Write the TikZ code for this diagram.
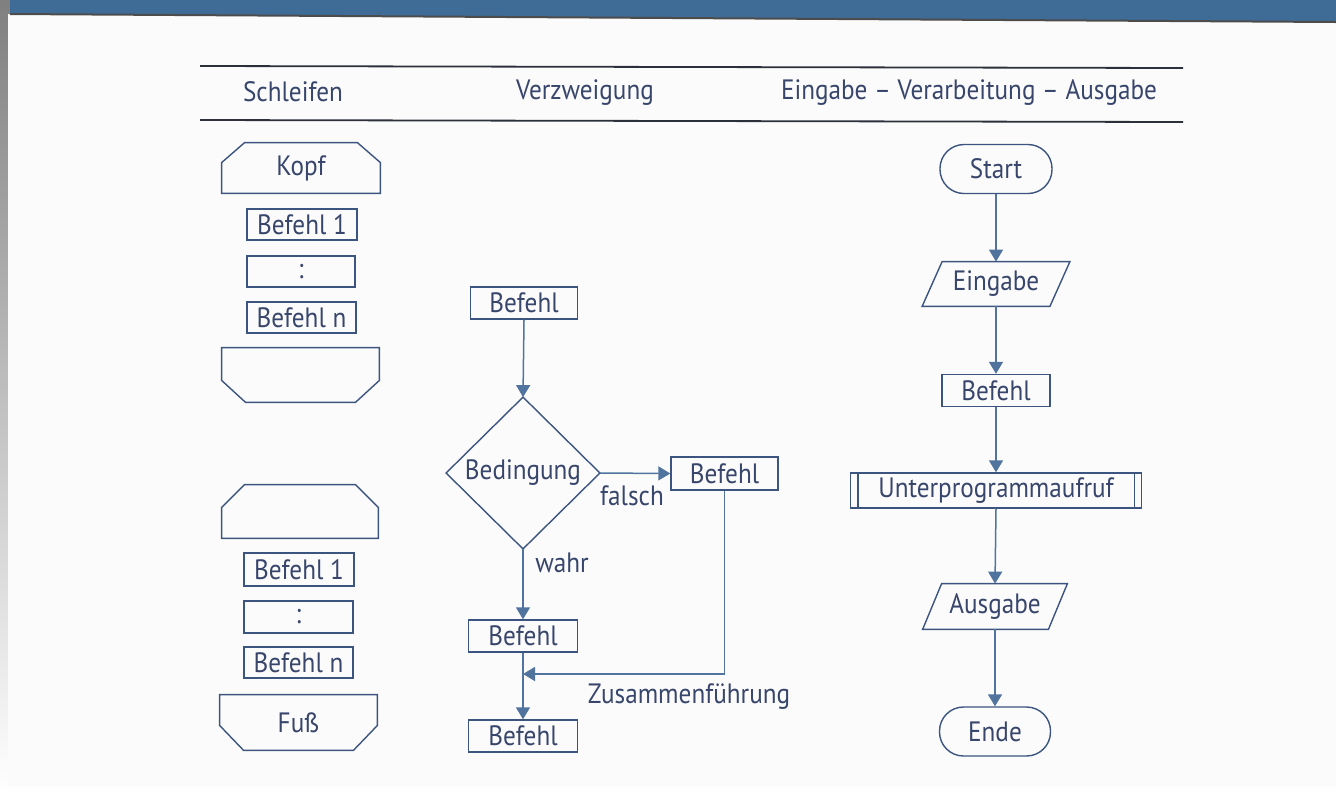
\documentclass[tikz,border=0pt]{standalone}
\usepackage{fontspec}
\setmainfont{PT Sans}[FakeStretch=0.9]
\usetikzlibrary{arrows.meta,calc}
\definecolor{ink}{RGB}{56,70,108}
\definecolor{edge}{RGB}{60,84,128}
\definecolor{conn}{RGB}{80,116,158}
\definecolor{band}{RGB}{62,108,150}
\definecolor{rulec}{RGB}{44,48,58}
\definecolor{paper}{RGB}{251,251,251}
\definecolor{shade}{RGB}{226,226,228}
\begin{document}
\begin{tikzpicture}[x=0.5pt,y=-0.5pt,
  every node/.style={text=ink,font=\fontsize{14}{16}\selectfont,inner sep=0pt},
  outl/.style={draw=edge,line width=0.7pt,line join=miter},
  cmd/.style={outl,rectangle,minimum width=#1,minimum height=16pt},
  plain/.style={rectangle,minimum width=#1},
  term/.style={outl,rectangle,rounded corners=12pt,minimum width=#1,minimum height=24.5pt},
  flow/.style={draw=conn,line width=0.75pt,-{Triangle[width=7pt,length=6pt]}},
  lbl/.style={font=\fontsize{14}{16}\selectfont}
]
\useasboundingbox (0,0) rectangle (1336,794);
% page and title band
\fill[shade] (0,0) rectangle (1336,794);
\fill[paper] (8,14) -- (1336,22) -- (1336,786) -- (8,786) -- cycle;
\fill[band] (10,0) -- (1336,0) -- (1336,22) -- (10,14) -- cycle;
\draw[black!70,line width=1pt] (10,14) -- (1336,22);

% table rules and column heads
\draw[rulec,line width=0.9pt] (200,66) -- (1183,68);
\draw[rulec,line width=0.9pt] (200,120) -- (1183,122);
\node (h1) at (293,92) {Schleifen};
\node (h2) at (585,93) {Verzweigung};
\node (h3) at (969,93) {Eingabe -- Verarbeitung -- Ausgabe};

% ---- loops: head-controlled
\node[plain=79pt,minimum height=25pt] (kopf) at (301,168) {Kopf};
\draw[outl] (kopf.south west) -- ($(kopf.north west)+(0,20)$) -- ($(kopf.north west)+(23,0)$)
  -- ($(kopf.north east)+(-23,0)$) -- ($(kopf.north east)+(0,20)$) -- (kopf.south east) -- cycle;
\node[cmd=55pt,minimum height=15.5pt] (la1) at (302,224.5) {Befehl 1};
\node[cmd=54pt,minimum height=15.5pt] (la2) at (301,271.5) {:};
\node[cmd=54.5pt,minimum height=15.5pt] (la3) at (301.5,317.5) {Befehl n};
\node[plain=78.5pt,minimum height=27pt] (lend) at (300.5,375) {};
\draw[outl] (lend.north west) -- (lend.north east) -- ($(lend.south east)+(0,-22)$)
  -- ($(lend.south east)+(-24,0)$) -- ($(lend.south west)+(24,0)$) -- ($(lend.south west)+(0,-22)$) -- cycle;

% ---- loops: foot-controlled
\node[plain=78pt,minimum height=26.5pt] (lbeg) at (300,511.5) {};
\draw[outl] (lbeg.south west) -- ($(lbeg.north west)+(0,23)$) -- ($(lbeg.north west)+(23,0)$)
  -- ($(lbeg.north east)+(-23,0)$) -- ($(lbeg.north east)+(0,23)$) -- (lbeg.south east) -- cycle;
\node[cmd=55pt,minimum height=16.5pt] (lb1) at (299,569.5) {Befehl 1};
\node[cmd=54.5pt,minimum height=16pt] (lb2) at (298.5,617) {:};
\node[cmd=54.5pt,minimum height=15.5pt] (lb3) at (298.5,662.5) {Befehl n};
\node[plain=78.5pt,minimum height=27.5pt] (fuss) at (298.5,722.5) {Fuß};
\draw[outl] (fuss.north west) -- (fuss.north east) -- ($(fuss.south east)+(0,-25)$)
  -- ($(fuss.south east)+(-24,0)$) -- ($(fuss.south west)+(24,0)$) -- ($(fuss.south west)+(0,-25)$) -- cycle;

% ---- branching
\node[cmd=53.5pt] (v1) at (524,303) {Befehl};
\node[plain=76.5pt,minimum height=75.5pt] (cond) at (523,473) {Bedingung};
\draw[outl] (cond.north) -- (cond.east) -- (cond.south) -- (cond.west) -- cycle;
\node[cmd=53.5pt,minimum height=16.5pt] (v2) at (724.5,473.5) {Befehl};
\node[cmd=54.5pt] (v3) at (523,636) {Befehl};
\node[cmd=54.5pt] (v4) at (523,736) {Befehl};
\coordinate (merge) at (523,674);
\draw[flow] (v1.south) -- (cond.north);
\draw[flow] (cond.east) -- (v2.west);
\draw[flow] (cond.south) -- (v3.north);
\draw[flow] (v3.south) -- (v4.north);
\draw[flow] (v2.south) |- (merge);
\node[lbl] (falsch) at (632,496) {falsch};
\node[lbl] (wahr) at (562,563) {wahr};
\node[lbl] (zus) at (689,697) {Zusammenführung};

% ---- input, processing, output
\node[term=56pt] (start) at (996,169) {Start};
\node[plain=63.5pt,minimum height=22pt] (ein) at (996,284) {Eingabe};
\draw[outl] ($(ein.north west)+(10,0)$) -- ($(ein.north east)+(10,0)$)
  -- ($(ein.south east)+(-10,0)$) -- ($(ein.south west)+(-10,0)$) -- cycle;
\node[cmd=54pt] (bef) at (996,390.5) {Befehl};
\node[cmd=145.5pt,minimum height=17.5pt] (up) at (996,490.5) {Unterprogrammaufruf};
\draw[outl] ($(up.north west)+(8,0)$) -- ($(up.south west)+(8,0)$);
\draw[outl] ($(up.north east)+(-8,0)$) -- ($(up.south east)+(-8,0)$);
\node[plain=62.5pt,minimum height=22.5pt] (aus) at (995,606.5) {Ausgabe};
\draw[outl] ($(aus.north west)+(9.5,0)$) -- ($(aus.north east)+(9.5,0)$)
  -- ($(aus.south east)+(-9.5,0)$) -- ($(aus.south west)+(-9.5,0)$) -- cycle;
\node[term=55.5pt] (ende) at (995,731.5) {Ende};
\draw[flow] (start.south) -- (ein.north);
\draw[flow] (ein.south) -- (bef.north);
\draw[flow] (bef.south) -- (up.north);
\draw[flow] (up.south) -- (aus.north);
\draw[flow] (aus.south) -- (ende.north);
\end{tikzpicture}
\end{document}
